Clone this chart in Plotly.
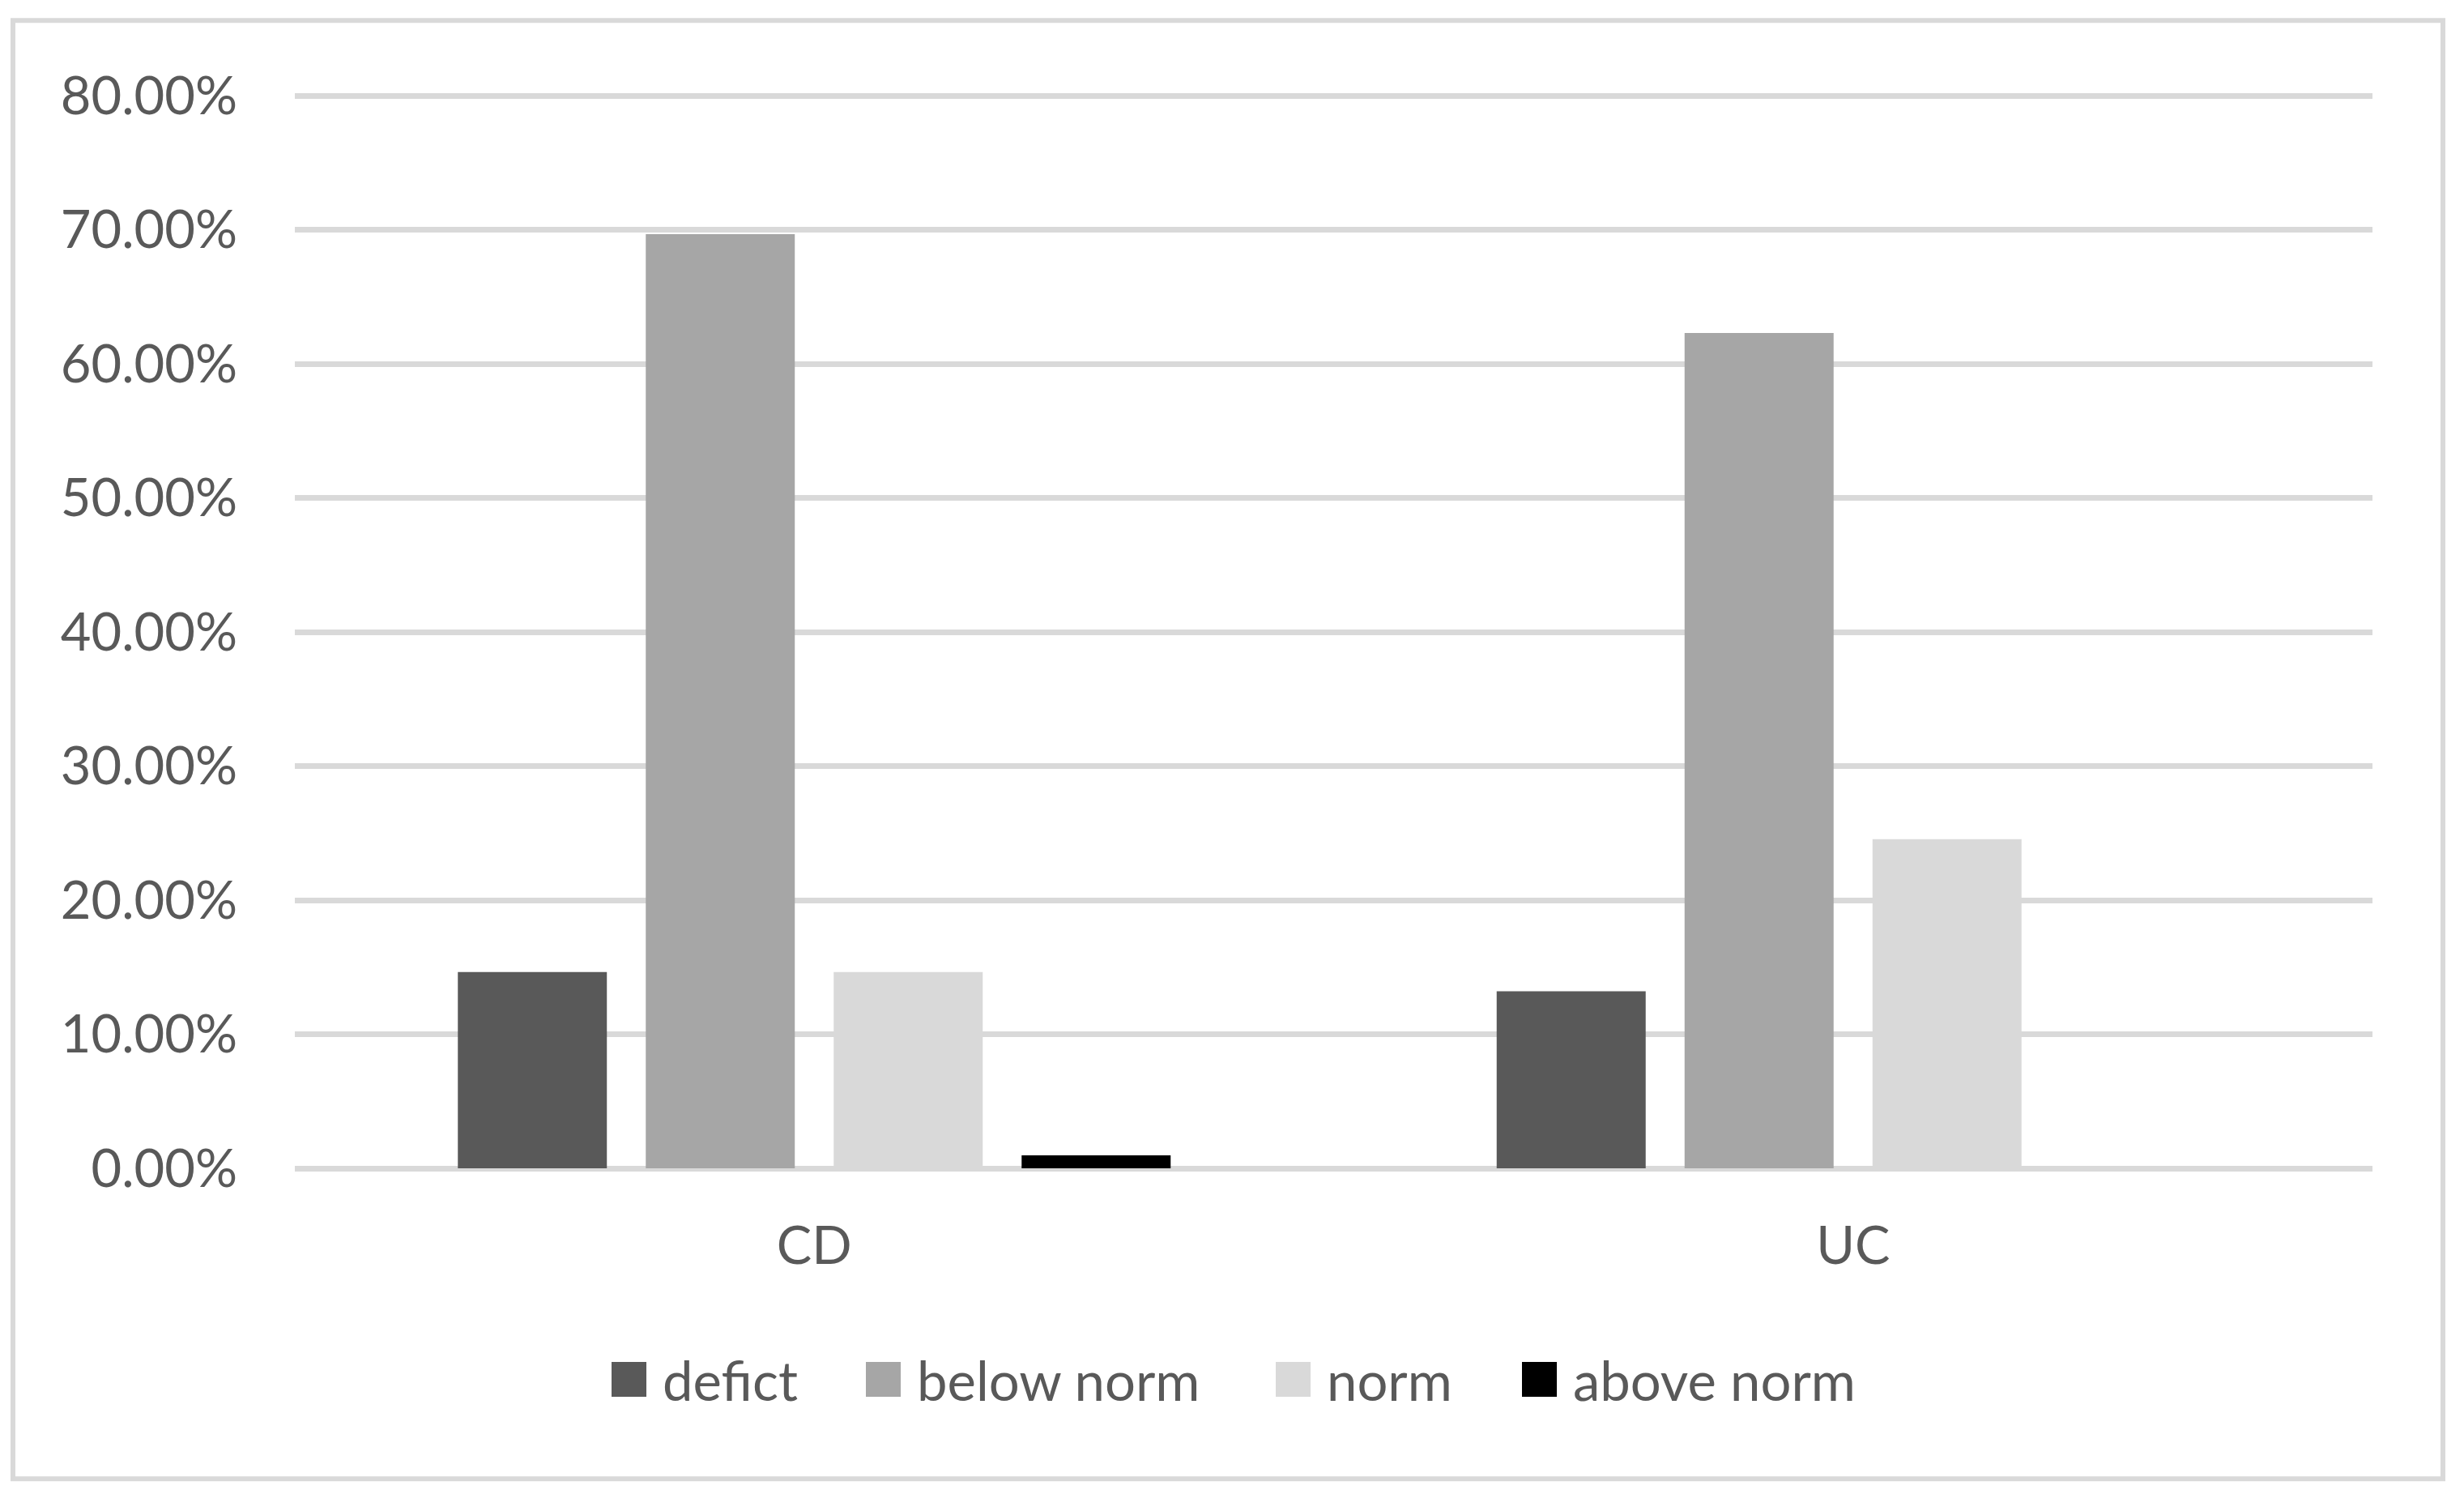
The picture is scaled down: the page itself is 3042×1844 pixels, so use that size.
import plotly.graph_objects as go

# ---- data ----
categories = ["CD", "UC"]
series_names = ["defict", "below norm", "norm", "above norm"]
deficit = [0.1463, 0.1320]
below_norm = [0.6966, 0.6230]
norm = [0.1463, 0.2455]
above_norm = [0.0097, 0.0]
series_values = [deficit, below_norm, norm, above_norm]
series_colors = ["#595959", "#a6a6a6", "#d9d9d9", "#000000"]
y_tick_values = [0.0, 0.1, 0.2, 0.3, 0.4, 0.5, 0.6, 0.7, 0.8]

# ---- layout constants (pixels) ----
W, H = 3042, 1844
Y_TOP_PX, Y_ZERO_PX = 117.7, 1442.5      # pixel rows of 80% and 0% gridlines
PX_PER_UNIT = (Y_ZERO_PX - Y_TOP_PX) / 0.8
HEADROOM_PX = 4                           # keep top gridline inside the plot
ML, MR = 364, 113
MT = Y_TOP_PX - HEADROOM_PX
MB = H - Y_ZERO_PX
Y_MAX = 0.8 + HEADROOM_PX / PX_PER_UNIT
FONT = "Lato"
TEXT_COLOR = "#595959"
GRID_COLOR = "#d9d9d9"
FS = 65
LEG_FS = 67
LEG_ITEMWIDTH = 73
LEG_SYMBOL_LEFT = [755, 1069, 1575, 1879]
LEG_CENTER_Y = 1703

legend_ids = ["legend"] + ["legend%d" % (i + 1) for i in range(1, len(series_names))]

fig = go.Figure()
for name, vals, col, lid in zip(series_names, series_values, series_colors, legend_ids):
    fig.add_trace(go.Bar(name=name, x=categories, y=vals, legend=lid,
                         marker=dict(color=col, line=dict(width=0))))

# outer chart-area border (paper coords computed from pixel frame)
pw, ph = W - ML - MR, H - MT - MB
def px_to_paper_x(px):
    return (px - ML) / pw
def px_to_paper_y(py):
    return (H - MB - py) / ph

fig.add_shape(type="rect", xref="paper", yref="paper",
              x0=px_to_paper_x(16), x1=px_to_paper_x(3016),
              y0=px_to_paper_y(1826), y1=px_to_paper_y(25),
              line=dict(color=GRID_COLOR, width=6), fillcolor="rgba(0,0,0,0)",
              layer="below")

legend_layouts = {}
for lid, left in zip(legend_ids, LEG_SYMBOL_LEFT):
    origin = left - ((LEG_ITEMWIDTH + 10) / 2 - 21.5)
    legend_layouts[lid] = dict(
        orientation="h", xref="container", yref="container",
        x=origin / W, xanchor="left", y=(H - LEG_CENTER_Y) / H, yanchor="middle",
        font=dict(family=FONT, size=LEG_FS, color=TEXT_COLOR),
        itemwidth=LEG_ITEMWIDTH, bgcolor="rgba(0,0,0,0)", borderwidth=0)

fig.update_layout(
    width=W, height=H, autosize=False,
    margin=dict(l=ML, r=MR, t=MT, b=MB, pad=0),
    paper_bgcolor="white", plot_bgcolor="white",
    font=dict(family=FONT, size=FS, color=TEXT_COLOR),
    barmode="group", bargap=0.2764, bargroupgap=0.207,
    showlegend=True,
    xaxis=dict(type="category", showgrid=False, zeroline=False, showline=False,
               ticks="", tickfont=dict(family=FONT, size=FS, color=TEXT_COLOR),
               ticklabelstandoff=52),
    yaxis=dict(range=[0, Y_MAX], tickvals=y_tick_values, tickformat=".2%",
               showgrid=True, gridcolor=GRID_COLOR, gridwidth=7,
               zeroline=True, zerolinecolor=GRID_COLOR, zerolinewidth=7,
               showline=False, ticks="",
               tickfont=dict(family=FONT, size=FS, color=TEXT_COLOR),
               ticklabelstandoff=70),
    **legend_layouts,
)

post = """
document.body.style.margin = '0';
document.body.style.padding = '0';
function bigSymbols(){
  document.querySelectorAll('g.legendpoints path').forEach(function(p){
    p.setAttribute('d','M21.5,21.5H-21.5V-21.5H21.5Z');
  });
}
bigSymbols();
setTimeout(bigSymbols, 50);
setTimeout(bigSymbols, 300);
setTimeout(bigSymbols, 1000);
var gd = document.getElementById('{plot_id}');
if (gd && gd.on) { gd.on('plotly_afterplot', bigSymbols); }
"""

fig.write_html("out.html", post_script=post, config={"displayModeBar": False})
